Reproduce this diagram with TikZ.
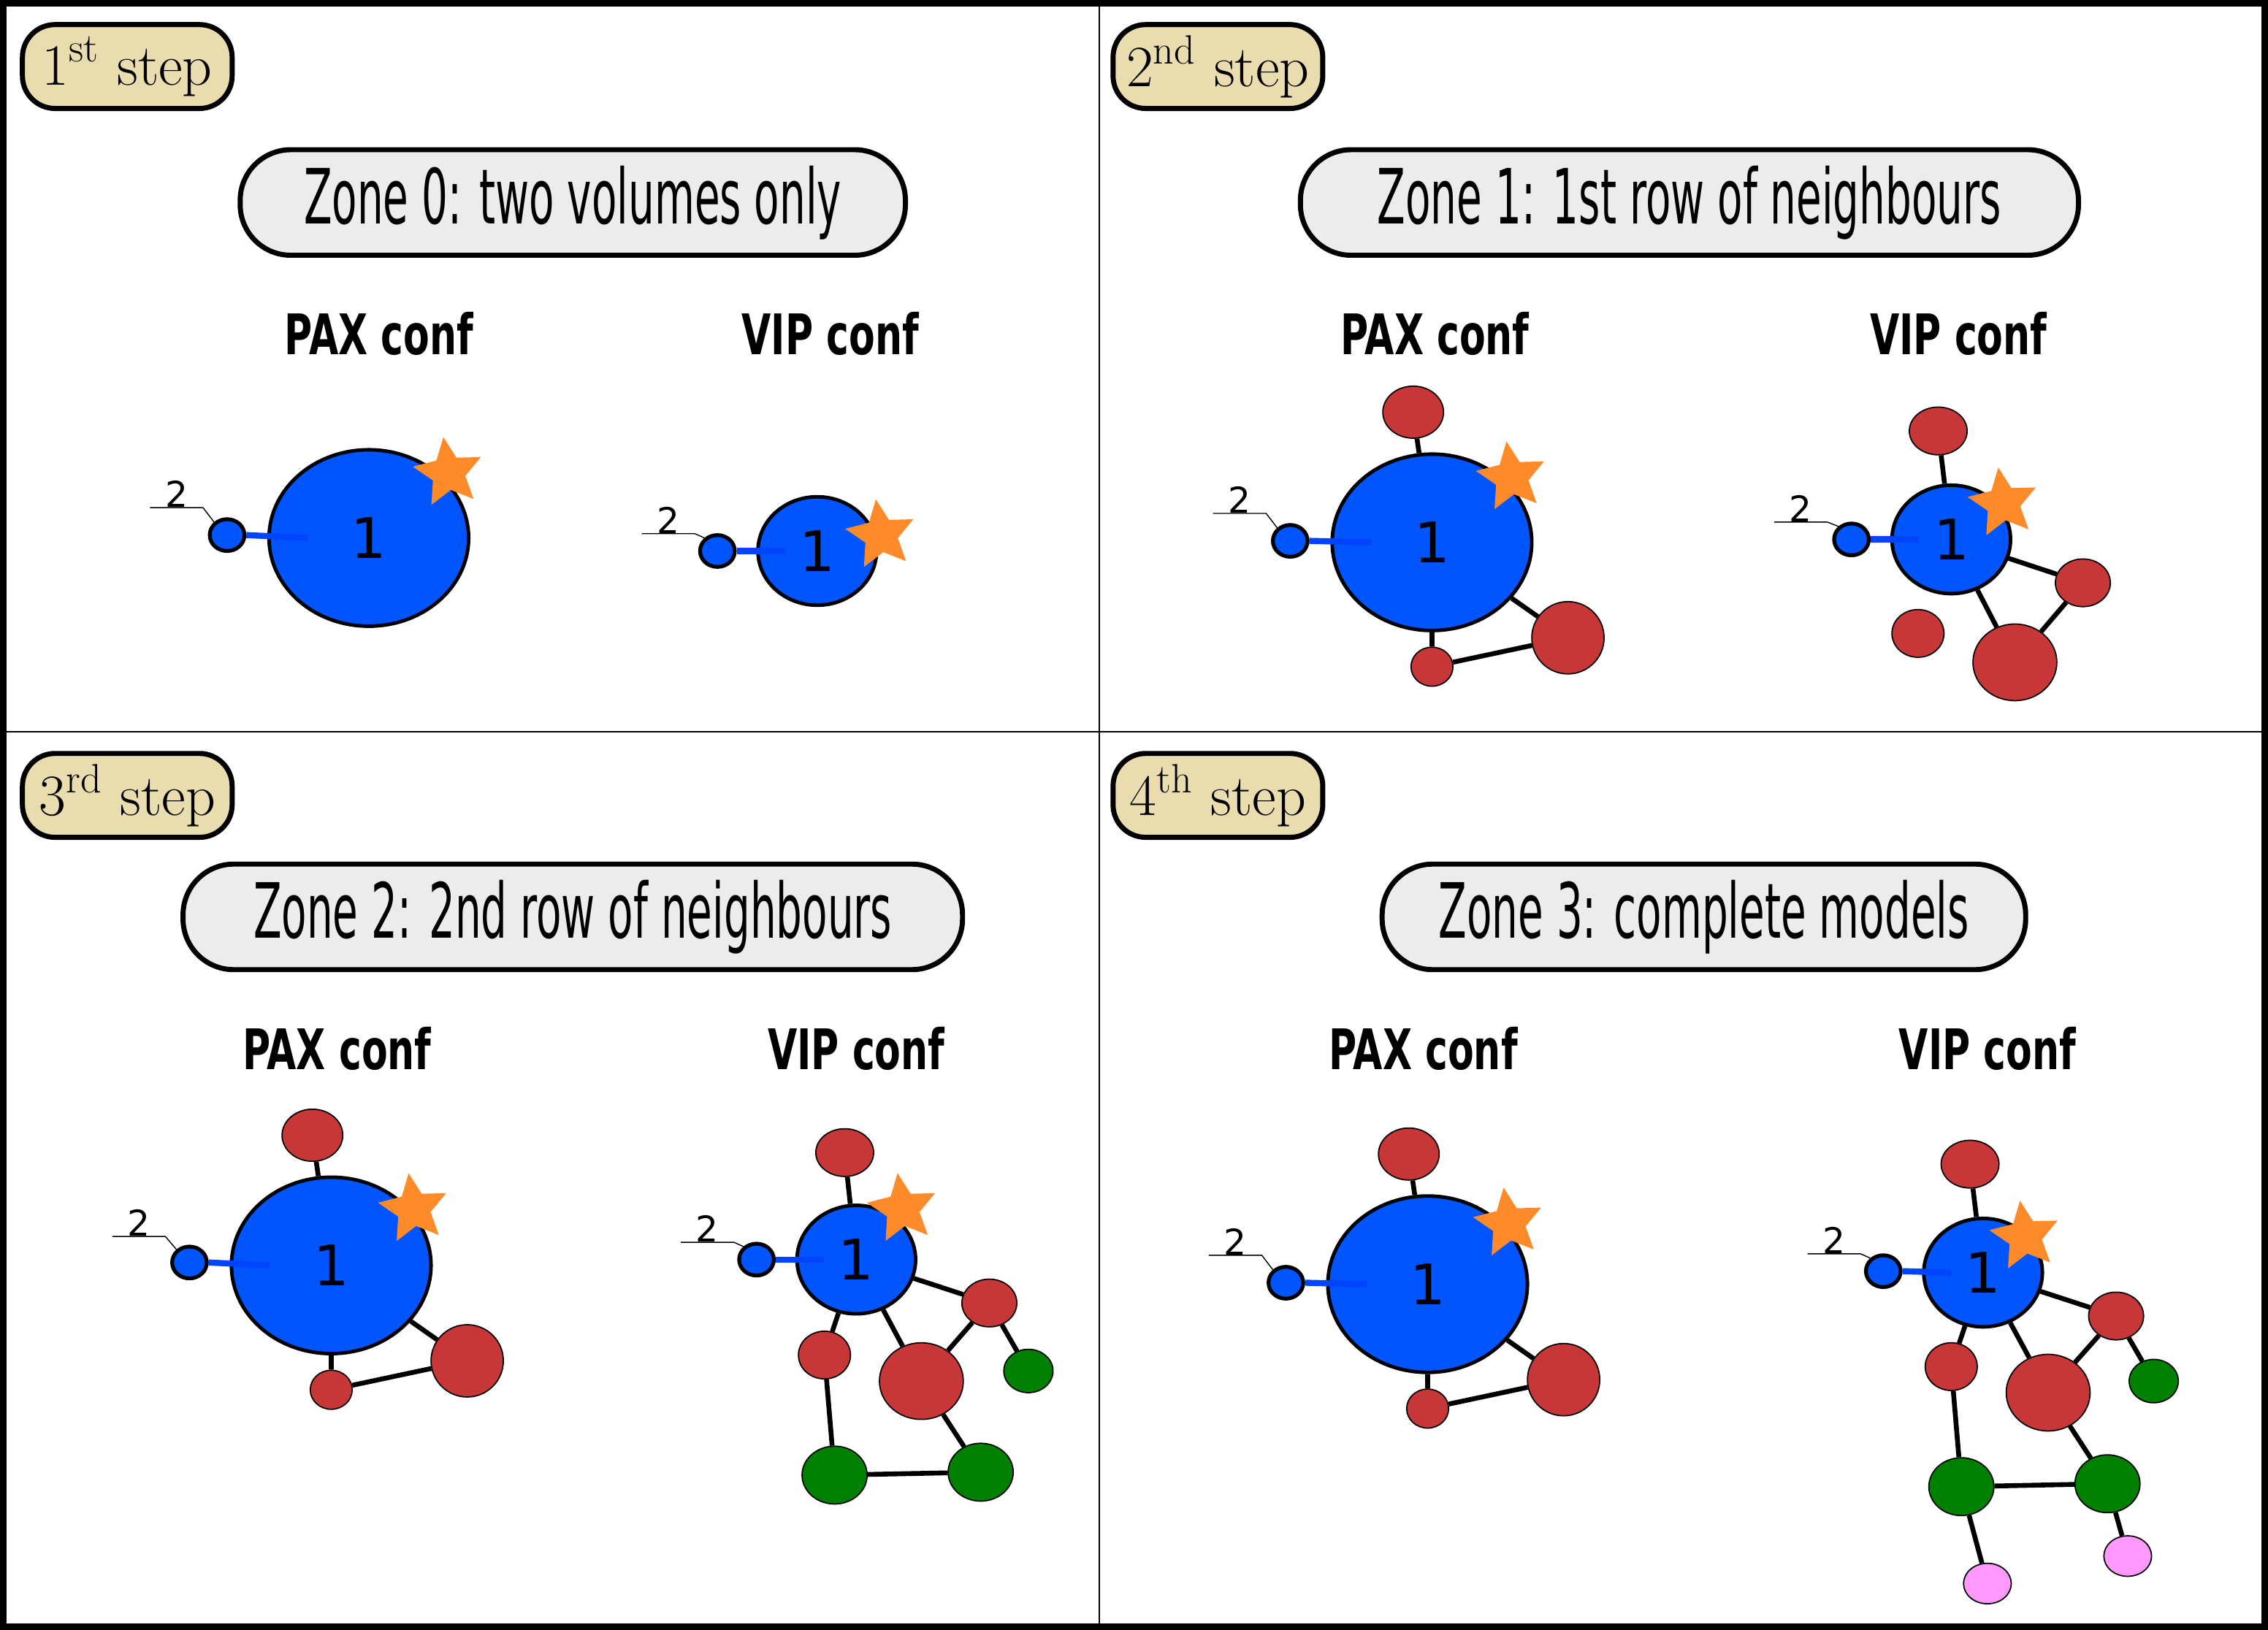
\documentclass[tikz,border=0pt]{standalone}
\usepackage{fontspec}
\setsansfont{DejaVu Sans}
\newfontfamily\condfont{DejaVu Sans}[FakeStretch=0.54]
\newfontfamily\confont{DejaVu Sans}[FakeStretch=0.68]
\usetikzlibrary{shapes,calc,positioning}

\definecolor{volblue}{HTML}{0055FF}
\definecolor{linkblue}{HTML}{0044FF}
\definecolor{volred}{HTML}{C83737}
\definecolor{volgreen}{HTML}{008000}
\definecolor{volpink}{HTML}{FF99FF}
\definecolor{starorange}{HTML}{FF8A2A}
\definecolor{zonegray}{HTML}{ECECEC}
\definecolor{stepsand}{HTML}{E9DDAF}

\tikzset{
  bigvol/.style={ellipse, draw, line width=1.4pt, fill=volblue, inner sep=0,
              minimum width=2.76cm, minimum height=2.44cm,
              font=\sffamily\fontsize{22}{22}\selectfont},
  midvol/.style={bigvol, minimum width=1.64cm, minimum height=1.5cm},
  smallvol/.style={ellipse, draw, line width=1.5pt, fill=volblue,
                minimum width=0.48cm, minimum height=0.44cm, inner sep=0},
  numlbl/.style={inner sep=0, minimum width=0.72cm, anchor=south,
              font=\sffamily\fontsize{14}{14}\selectfont},
  res/.style={ellipse, draw, line width=0.5pt, inner sep=0},
  resred/.style={res, fill=volred},
  resgreen/.style={res, fill=volgreen},
  respink/.style={res, fill=volpink},
  hot/.style={star, star points=5, star point ratio=2.1, fill=starorange,
               minimum size=1.0cm, inner sep=0, rotate=8},
  link/.style={line width=2.4pt, linkblue},
  bond/.style={line width=1.9pt},
  zone/.style={rounded corners=0.7cm, draw, line width=2pt, fill=zonegray,
               font=\condfont\fontsize{30}{30}\selectfont},
  steplbl/.style={rounded corners=0.45cm, draw, line width=2pt, fill=stepsand,
               font=\fontsize{23}{23}\selectfont, inner sep=0,
               minimum width=2.9cm, minimum height=1.16cm},
  conf/.style={font=\confont\bfseries\fontsize{22}{22}\selectfont},
}

\begin{document}
\begin{tikzpicture}[x=0.02cm,y=-0.02cm]

  \useasboundingbox (0,0) rectangle (1568,1127);
  \draw[line width=3pt] (2,2) rectangle (1566,1125);
  \draw[line width=0.8pt] (760,2) -- (760,1125);
  \draw[line width=0.8pt] (2,506) -- (1566,506);

  % step labels
  \node (st1) [steplbl] at (88,46) {1\textsuperscript{st} step};
  \node (st2) [steplbl] at (842,46) {2\textsuperscript{nd} step};
  \node (st3) [steplbl] at (88,550) {3\textsuperscript{rd} step};
  \node (st4) [steplbl] at (842,550) {4\textsuperscript{th} step};

  % zone titles
  \node (z0) [zone, minimum width=9.2cm, minimum height=1.46cm] at (396,140) {Zone 0: two volumes only};
  \node (z1) [zone, minimum width=10.76cm, minimum height=1.46cm] at (1168,140) {Zone 1: 1st row of neighbours};
  \node (z2) [zone, minimum width=10.78cm, minimum height=1.46cm] at (396,634) {Zone 2: 2nd row of neighbours};
  \node (z3) [zone, minimum width=8.9cm, minimum height=1.46cm] at (1178,634) {Zone 3: complete models};

  \node (pax0) [conf] at (262,231) {PAX conf};
  \node (vip0) [conf] at (574,231) {VIP conf};
  \node (pax1) [conf] at (992,231) {PAX conf};
  \node (vip1) [conf] at (1354,231) {VIP conf};
  \node (pax2) [conf] at (233,725) {PAX conf};
  \node (vip2) [conf] at (592,725) {VIP conf};
  \node (pax3) [conf] at (984,725) {PAX conf};
  \node (vip3) [conf] at (1374,725) {VIP conf};

  % zone 0
  \node (pb0) [bigvol] at (255,372) {1};
  \node (ps0) [smallvol] at (157,370) {};
  \node (pn0) [numlbl] at (122,351) {2};
  \node (pm0) [hot] at (310,327) {};
  \draw (pn0.south west) -- (pn0.south east) -- (ps0.135);
  \draw[link] (ps0.east) -- ([xshift=0.56cm]pb0.west);

  \node (vb0) [midvol] at (565,381) {1};
  \node (vs0) [smallvol] at (496,381) {};
  \node (vn0) [numlbl] at (462,369) {2};
  \node (vm0) [hot] at (609,370) {};
  \draw (vn0.south west) -- (vn0.south east) -- (vs0.135);
  \draw[link] (vs0.east) -- ([xshift=0.4cm]vb0.west);

  % zone 1
  \node (pb1) [bigvol] at (990,375) {1};
  \node (ps1) [smallvol] at (892,374) {};
  \node (pn1) [numlbl] at (857,355) {2};
  \node (pm1) [hot] at (1045,330) {};
  \node (pr1a) [resred, minimum width=0.84cm, minimum height=0.72cm] at (977,285) {};
  \node (pr1b) [resred, minimum width=0.58cm, minimum height=0.54cm] at (990,461) {};
  \node (pr1c) [resred, minimum width=1.0cm, minimum height=1.0cm] at (1084,441) {};
  \draw[bond] (pb1) -- (pr1a) (pb1) -- (pr1b) -- (pr1c) -- (pb1);
  \draw (pn1.south west) -- (pn1.south east) -- (ps1.135);
  \draw[link] (ps1.east) -- ([xshift=0.56cm]pb1.west);

  \node (vb1) [midvol] at (1349,373) {1};
  \node (vs1) [smallvol] at (1280,373) {};
  \node (vn1) [numlbl] at (1245,361) {2};
  \node (vm1) [hot] at (1385,348) {};
  \node (vr1a) [resred, minimum width=0.8cm, minimum height=0.66cm] at (1340,298) {};
  \node (vr1b) [resred, minimum width=0.76cm, minimum height=0.66cm] at (1440,403) {};
  \node (vr1c) [resred, minimum width=0.72cm, minimum height=0.66cm] at (1326,438) {};
  \node (vr1d) [resred, minimum width=1.16cm, minimum height=1.06cm] at (1393,458) {};
  \draw[bond] (vb1) -- (vr1a) (vb1) -- (vr1b) -- (vr1d) -- (vb1);
  \draw (vn1.south west) -- (vn1.south east) -- (vs1.135);
  \draw[link] (vs1.east) -- ([xshift=0.4cm]vb1.west);

  % zone 2
  \node (pb2) [bigvol] at (229,875) {1};
  \node (ps2) [smallvol] at (131,873) {};
  \node (pn2) [numlbl] at (96,855) {2};
  \node (pm2) [hot] at (286,836) {};
  \node (pr2a) [resred, minimum width=0.84cm, minimum height=0.72cm] at (216,785) {};
  \node (pr2b) [resred, minimum width=0.58cm, minimum height=0.54cm] at (229,961) {};
  \node (pr2c) [resred, minimum width=1.0cm, minimum height=1.0cm] at (323,941) {};
  \draw[bond] (pb2) -- (pr2a) (pb2) -- (pr2b) -- (pr2c) -- (pb2);
  \draw (pn2.south west) -- (pn2.south east) -- (ps2.135);
  \draw[link] (ps2.east) -- ([xshift=0.56cm]pb2.west);

  \node (vb2) [midvol] at (592,871) {1};
  \node (vs2) [smallvol] at (523,871) {};
  \node (vn2) [numlbl] at (489,859) {2};
  \node (vm2) [hot] at (624,836) {};
  \node (vr2a) [resred, minimum width=0.8cm, minimum height=0.66cm] at (584,797) {};
  \node (vr2b) [resred, minimum width=0.76cm, minimum height=0.66cm] at (684,901) {};
  \node (vr2c) [resred, minimum width=0.72cm, minimum height=0.66cm] at (570,937) {};
  \node (vr2d) [resred, minimum width=1.16cm, minimum height=1.06cm] at (637,955) {};
  \node (vg2a) [resgreen, minimum width=0.68cm, minimum height=0.6cm] at (711,948) {};
  \node (vg2b) [resgreen, minimum width=0.9cm, minimum height=0.8cm] at (577,1020) {};
  \node (vg2c) [resgreen, minimum width=0.9cm, minimum height=0.8cm] at (678,1018) {};
  \draw[bond] (vb2) -- (vr2a) (vb2) -- (vr2b) -- (vr2d) -- (vb2)
              (vb2) -- (vr2c) -- (vg2b) -- (vg2c) -- (vr2d)
              (vr2b) -- (vg2a);
  \draw (vn2.south west) -- (vn2.south east) -- (vs2.135);
  \draw[link] (vs2.east) -- ([xshift=0.4cm]vb2.west);

  % zone 3
  \node (pb3) [bigvol] at (987,888) {1};
  \node (ps3) [smallvol] at (889,887) {};
  \node (pn3) [numlbl] at (854,868) {2};
  \node (pm3) [hot] at (1043,846) {};
  \node (pr3a) [resred, minimum width=0.84cm, minimum height=0.72cm] at (974,798) {};
  \node (pr3b) [resred, minimum width=0.58cm, minimum height=0.54cm] at (987,974) {};
  \node (pr3c) [resred, minimum width=1.0cm, minimum height=1.0cm] at (1081,954) {};
  \draw[bond] (pb3) -- (pr3a) (pb3) -- (pr3b) -- (pr3c) -- (pb3);
  \draw (pn3.south west) -- (pn3.south east) -- (ps3.135);
  \draw[link] (ps3.east) -- ([xshift=0.56cm]pb3.west);

  \node (vb3) [midvol] at (1371,880) {1};
  \node (vs3) [smallvol] at (1302,879) {};
  \node (vn3) [numlbl] at (1268,867) {2};
  \node (vm3) [hot] at (1400,855) {};
  \node (vr3a) [resred, minimum width=0.8cm, minimum height=0.66cm] at (1362,805) {};
  \node (vr3b) [resred, minimum width=0.76cm, minimum height=0.66cm] at (1463,910) {};
  \node (vr3c) [resred, minimum width=0.72cm, minimum height=0.66cm] at (1349,945) {};
  \node (vr3d) [resred, minimum width=1.16cm, minimum height=1.06cm] at (1416,963) {};
  \node (vg3a) [resgreen, minimum width=0.68cm, minimum height=0.6cm] at (1489,955) {};
  \node (vg3b) [resgreen, minimum width=0.9cm, minimum height=0.8cm] at (1356,1028) {};
  \node (vg3c) [resgreen, minimum width=0.9cm, minimum height=0.8cm] at (1457,1026) {};
  \node (vp3a) [respink, minimum width=0.66cm, minimum height=0.56cm] at (1374,1095) {};
  \node (vp3b) [respink, minimum width=0.66cm, minimum height=0.56cm] at (1471,1076) {};
  \draw[bond] (vb3) -- (vr3a) (vb3) -- (vr3b) -- (vr3d) -- (vb3)
              (vb3) -- (vr3c) -- (vg3b) -- (vg3c) -- (vr3d)
              (vr3b) -- (vg3a) (vg3b) -- (vp3a) (vg3c) -- (vp3b);
  \draw (vn3.south west) -- (vn3.south east) -- (vs3.135);
  \draw[link] (vs3.east) -- ([xshift=0.4cm]vb3.west);

\end{tikzpicture}
\end{document}
